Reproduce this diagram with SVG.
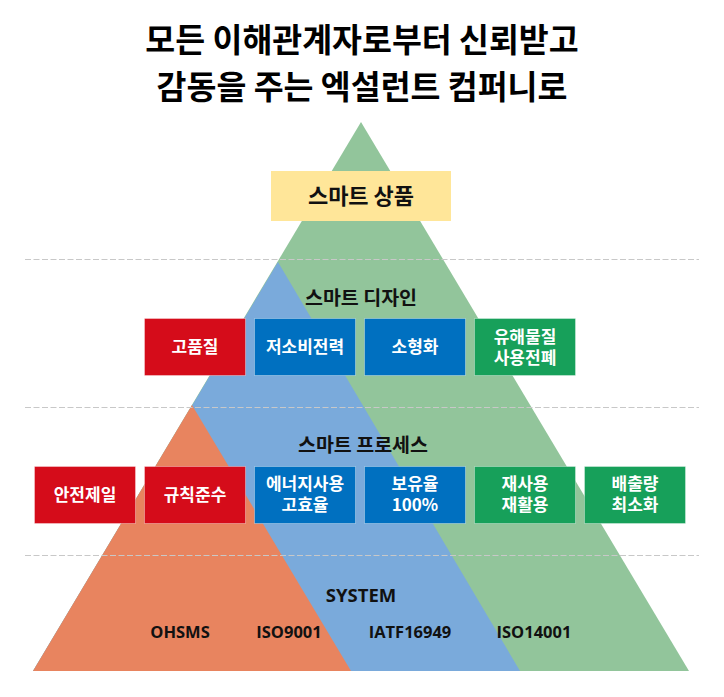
<svg xmlns="http://www.w3.org/2000/svg" width="724" height="697" viewBox="0 0 724 697">
<style>
.ko{font-family:"Noto Sans CJK KR","Noto Sans",sans-serif;font-weight:700;}
.en{font-family:"Open Sans","Noto Sans",sans-serif;font-weight:700;fill:#111;}
.title{font-size:32.5px;fill:#000;text-anchor:middle;}
.layer{font-size:19.5px;fill:#111;text-anchor:middle;}
.lbl{font-size:17px;fill:#fff;text-anchor:middle;}
.box{stroke:#fff;stroke-opacity:0.35;stroke-width:1;}
.red{fill:#D50C1A;}
.blue{fill:#0070C0;}
.green{fill:#17A05A;}
.dash{stroke:#C8C8C8;stroke-width:1;stroke-dasharray:6 2.5;fill:none;}
</style>
<rect width="724" height="697" fill="#fff"/>
<g id="title">
<text class="ko title" x="362" y="52">모든 이해관계자로부터 신뢰받고</text>
<text class="ko title" x="362" y="99">감동을 주는 엑설런트 컴퍼니로</text>
</g>
<g id="pyramid">
<polygon points="361,122 33,671 689,671" fill="#92C59B"/>
<polygon points="278,262 33,671 520,671" fill="#7AAADB"/>
<polygon points="192,405 33,671 351,671" fill="#E8845F"/>
</g>
<g id="dividers">
<line class="dash" x1="25" y1="259.5" x2="699" y2="259.5"/>
<line class="dash" x1="25" y1="407.5" x2="699" y2="407.5"/>
<line class="dash" x1="25" y1="555.5" x2="699" y2="555.5"/>
</g>
<g id="connectors"></g>
<g id="smart-product">
<rect x="271" y="171" width="180" height="50" fill="#FFE699"/>
<text class="ko" x="361" y="204" font-size="22" fill="#111" text-anchor="middle">스마트 상품</text>
</g>
<g id="smart-design-label">
<text class="ko layer" x="361" y="305">스마트 디자인</text>
</g>
<g id="n-quality">
<rect class="box red" x="144.5" y="318.5" width="101" height="57"/>
<text class="ko lbl" x="195" y="353">고품질</text>
</g>
<g id="n-lowpower">
<rect class="box blue" x="254.5" y="318.5" width="101" height="57"/>
<text class="ko lbl" x="305" y="353">저소비전력</text>
</g>
<g id="n-compact">
<rect class="box blue" x="364.5" y="318.5" width="101" height="57"/>
<text class="ko lbl" x="415" y="353">소형화</text>
</g>
<g id="n-hazard">
<rect class="box green" x="474.5" y="318.5" width="101" height="57"/>
<text class="ko lbl" x="525" y="343">유해물질<tspan x="525" dy="21">사용전폐</tspan></text>
</g>
<g id="smart-process-label">
<text class="ko layer" x="363" y="452" font-size="20">스마트 프로세스</text>
</g>
<g id="n-safety">
<rect class="box red" x="34.5" y="466.5" width="101" height="57"/>
<text class="ko lbl" x="85" y="501">안전제일</text>
</g>
<g id="n-rules">
<rect class="box red" x="144.5" y="466.5" width="101" height="57"/>
<text class="ko lbl" x="195" y="501">규칙준수</text>
</g>
<g id="n-energy">
<rect class="box blue" x="254.5" y="466.5" width="101" height="57"/>
<text class="ko lbl" x="305" y="490">에너지사용<tspan x="305" dy="21">고효율</tspan></text>
</g>
<g id="n-retention">
<rect class="box blue" x="364.5" y="466.5" width="101" height="57"/>
<text class="ko lbl" x="415" y="490">보유율<tspan x="415" dy="21">100%</tspan></text>
</g>
<g id="n-reuse">
<rect class="box green" x="474.5" y="466.5" width="101" height="57"/>
<text class="ko lbl" x="525" y="490">재사용<tspan x="525" dy="21">재활용</tspan></text>
</g>
<g id="n-emission">
<rect class="box green" x="584.5" y="466.5" width="101" height="57"/>
<text class="ko lbl" x="635" y="490">배출량<tspan x="635" dy="21">최소화</tspan></text>
</g>
<g id="system">
<text class="en" x="361" y="602" font-size="18.5" text-anchor="middle">SYSTEM</text>
<text class="en" x="180" y="638" font-size="16.5" text-anchor="middle">OHSMS</text>
<text class="en" x="289" y="638" font-size="16.5" text-anchor="middle">ISO9001</text>
<text class="en" x="410" y="638" font-size="16.5" text-anchor="middle">IATF16949</text>
<text class="en" x="534" y="638" font-size="16.5" text-anchor="middle">ISO14001</text>
</g>
</svg>
